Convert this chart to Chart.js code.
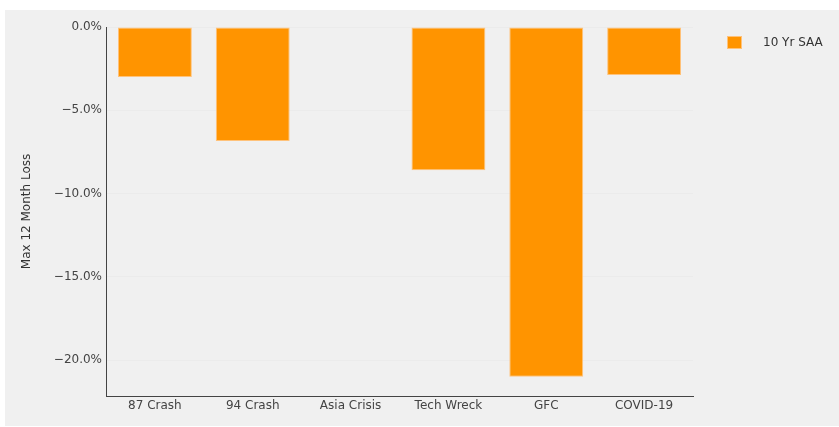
<!DOCTYPE html>
<html>
<head>
<meta charset="utf-8">
<script src="https://cdn.jsdelivr.net/npm/chart.js@4.4.1/dist/chart.umd.min.js"></script>
<style>
  html, body { margin: 0; padding: 0; background: #fff; }
  body { width: 839px; height: 427px; position: relative; overflow: hidden; }
  #panel { position: absolute; left: 5px; top: 10px; width: 834px; height: 416px; background: #f0f0f0; }
  #chart { position: absolute; left: 0; top: 0; }
  #legend { position: absolute; left: 722px; top: 25px; font: 12px "DejaVu Sans", sans-serif; color: #333; }
  #legend .item { display: flex; align-items: center; }
  #legend .box { width: 15px; height: 13px; margin-right: 21px; box-sizing: border-box; }
</style>
</head>
<body>
<div id="panel">
  <canvas id="chart" width="834" height="416"></canvas>
  <div id="legend"></div>
</div>
<script>
const categories = ['87 Crash', '94 Crash', 'Asia Crisis', 'Tech Wreck', 'GFC', 'COVID-19'];
const saaLoss = [-3.0, -6.85, 0, -8.6, -21.0, -2.88];
const seriesName = '10 Yr SAA';
const yTicks = [0, -5, -10, -15, -20];

const orange = '#ff9400';
const orangeEdge = '#ffc27a';

const pct = v => (v < 0 ? '\u2212' : '') + Math.abs(v).toFixed(1) + '%';

const chart = new Chart(document.getElementById('chart'), {
  type: 'bar',
  data: {
    labels: categories,
    datasets: [{
      label: seriesName,
      data: saaLoss,
      backgroundColor: orange,
      borderColor: orangeEdge,
      borderWidth: 1,
      borderSkipped: false,
      barPercentage: 0.755,
      categoryPercentage: 1
    }]
  },
  options: {
    responsive: false,
    animation: false,
    layout: { padding: { top: 17, right: 146, left: 0, bottom: 0 } },
    plugins: { legend: { display: false }, tooltip: { enabled: false } },
    scales: {
      x: {
        grid: { display: false, drawTicks: false },
        border: { color: '#444', width: 1 },
        ticks: { color: '#444', padding: 3, font: { family: 'DejaVu Sans', size: 12 }, maxRotation: 0 },
        afterFit: s => { s.height = 30; }
      },
      y: {
        min: -22.16,
        max: 0,
        afterBuildTicks: s => { s.ticks = yTicks.map(v => ({ value: v })); },
        grid: { color: '#ebebeb', drawTicks: false },
        border: { color: '#444', width: 1 },
        ticks: { color: '#444', padding: 4, font: { family: 'DejaVu Sans', size: 12 }, callback: v => pct(v) },
        title: {
          display: true,
          text: 'Max 12 Month Loss',
          color: '#333',
          font: { family: 'DejaVu Sans', size: 12 },
          padding: { top: 15, bottom: 0 }
        },
        afterFit: s => { s.width = 101; }
      }
    }
  }
});

// legend built from the dataset
const legend = document.getElementById('legend');
chart.data.datasets.forEach(ds => {
  const item = document.createElement('div');
  item.className = 'item';
  item.innerHTML = `<span class="box" style="background:${ds.backgroundColor};border:1px solid ${ds.borderColor}"></span><span>${ds.label}</span>`;
  legend.appendChild(item);
});
</script>
</body>
</html>
